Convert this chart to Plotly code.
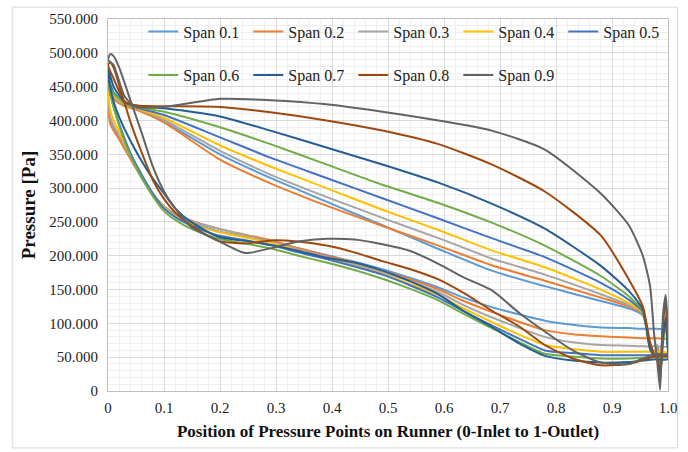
import plotly.graph_objects as go

SPANS = ["Span 0.1", "Span 0.2", "Span 0.3", "Span 0.4", "Span 0.5",
         "Span 0.6", "Span 0.7", "Span 0.8", "Span 0.9"]
COLORS = ["#5B9BD5", "#ED7D31", "#A5A5A5", "#FFC000", "#4472C4",
          "#70AD47", "#255E91", "#9E480E", "#636363"]

# x positions: pressure side (upper), trailing edge region, suction side (lower, back to inlet)
X_UPPER = [0, 0.01, 0.03, 0.05, 0.1, 0.2, 0.29, 0.39, 0.49, 0.59, 0.685, 0.78, 0.88, 0.93, 0.955]
X_TRAIL = [0.968, 0.975, 0.981, 0.986, 0.991, 0.996, 0.999]
X_LOWER = [1.0, 0.98, 0.955, 0.93, 0.88, 0.83, 0.78, 0.735, 0.685, 0.635, 0.59, 0.54, 0.49,
           0.44, 0.39, 0.34, 0.295, 0.245, 0.197, 0.148, 0.12, 0.1, 0.08, 0.06, 0.04, 0.02,
           0.01, 0.004, 0]

UPPER_01 = [442, 432, 422, 417, 398, 350, 315, 280, 245, 210, 178, 155, 133, 122, 112]
UPPER_02 = [440, 431, 421, 416, 397, 342, 307, 274, 244, 215, 186, 163, 138, 125, 114]
UPPER_03 = [445, 434, 423, 418, 401, 355, 320, 287, 256, 226, 196, 172, 143, 127, 115]
UPPER_04 = [450, 437, 424, 418, 404, 363, 332, 300, 268, 238, 208, 183, 150, 130, 116]
UPPER_05 = [462, 442, 425, 419, 408, 375, 345, 315, 285, 255, 226, 198, 160, 135, 117]
UPPER_06 = [455, 440, 425, 420, 413, 390, 365, 335, 305, 278, 249, 215, 170, 140, 118]
UPPER_07 = [478, 450, 427, 422, 418, 406, 385, 360, 335, 308, 277, 240, 185, 148, 120]
UPPER_08 = [482, 462, 428, 422, 421, 420, 412, 400, 385, 365, 335, 295, 230, 165, 125]
UPPER_09 = [490, 482, 435, 420, 420, 432, 430, 424, 413, 400, 385, 357, 292, 245, 200]

TRAIL_01 = [66, 56, 68, 45, 92, 118, 100]
TRAIL_02 = [64, 55, 64, 40, 88, 112, 95]
TRAIL_03 = [64, 55, 60, 35, 85, 122, 88]
TRAIL_04 = [63, 55, 56, 30, 80, 108, 80]
TRAIL_05 = [63, 54, 55, 25, 75, 104, 74]
TRAIL_06 = [62, 54, 52, 30, 70, 98, 70]
TRAIL_07 = [62, 53, 50, 22, 78, 108, 68]
TRAIL_08 = [72, 55, 46, 14, 100, 135, 88]
TRAIL_09 = [155, 86, 42, 2, 112, 142, 100]

LOWER_01 = [92, 92, 92, 93, 94, 98, 104, 113, 124, 138, 153, 167, 180, 191, 201, 211, 220, 228, 236, 249, 260, 272, 290, 315, 345, 375, 388, 400, 442]
LOWER_02 = [78, 78, 78, 79, 81, 84, 90, 102, 117, 133, 150, 165, 178, 190, 200, 211, 222, 231, 240, 252, 262, 273, 291, 316, 343, 372, 385, 395, 440]
LOWER_03 = [66, 66, 66, 67, 68, 72, 80, 93, 109, 127, 146, 162, 175, 187, 198, 209, 220, 230, 240, 251, 261, 273, 292, 317, 346, 378, 392, 405, 445]
LOWER_04 = [58, 58, 58, 58, 58, 62, 68, 83, 102, 122, 142, 158, 173, 185, 196, 207, 218, 227, 235, 247, 258, 271, 292, 318, 348, 383, 400, 415, 450]
LOWER_05 = [53, 53, 53, 53, 53, 56, 60, 77, 97, 118, 138, 156, 172, 184, 195, 205, 215, 223, 230, 245, 257, 270, 292, 320, 352, 395, 420, 440, 462]
LOWER_06 = [50, 50, 49, 48, 48, 51, 55, 72, 93, 114, 134, 151, 166, 179, 190, 200, 210, 218, 225, 240, 253, 266, 288, 316, 348, 392, 420, 440, 455]
LOWER_07 = [47, 47, 45, 43, 42, 45, 52, 70, 95, 118, 143, 162, 178, 190, 197, 207, 215, 222, 228, 250, 270, 292, 314, 340, 370, 405, 428, 450, 478]
LOWER_08 = [52, 52, 46, 40, 38, 48, 68, 95, 119, 145, 165, 180, 192, 205, 215, 221, 223, 218, 222, 245, 264, 284, 312, 353, 398, 452, 478, 486, 482]
LOWER_09 = [55, 55, 48, 40, 42, 60, 88, 115, 149, 168, 188, 207, 217, 224, 225, 221, 212, 204, 222, 243, 270, 295, 332, 382, 430, 478, 495, 498, 490]

UPPERS = [UPPER_01, UPPER_02, UPPER_03, UPPER_04, UPPER_05, UPPER_06, UPPER_07, UPPER_08, UPPER_09]
TRAILS = [TRAIL_01, TRAIL_02, TRAIL_03, TRAIL_04, TRAIL_05, TRAIL_06, TRAIL_07, TRAIL_08, TRAIL_09]
LOWERS = [LOWER_01, LOWER_02, LOWER_03, LOWER_04, LOWER_05, LOWER_06, LOWER_07, LOWER_08, LOWER_09]

X_TICKS = [0, 0.1, 0.2, 0.3, 0.4, 0.5, 0.6, 0.7, 0.8, 0.9, 1.0]
X_TICK_LABELS = ["0", "0.1", "0.2", "0.3", "0.4", "0.5", "0.6", "0.7", "0.8", "0.9", "1.0"]
Y_TICKS = [0, 50, 100, 150, 200, 250, 300, 350, 400, 450, 500, 550]
Y_TICK_LABELS = ["0", "50.000", "100.000", "150.000", "200.000", "250.000", "300.000",
                 "350.000", "400.000", "450.000", "500.000", "550.000"]

FONT = "Liberation Serif"

fig = go.Figure()
for i, name in enumerate(SPANS):
    fig.add_trace(go.Scatter(
        x=X_UPPER + X_TRAIL + X_LOWER,
        y=UPPERS[i] + TRAILS[i] + LOWERS[i],
        mode="lines",
        name=name,
        line=dict(color=COLORS[i], width=2, shape="spline", smoothing=0.6),
        legend="legend" if i < 5 else "legend2",
    ))

legend_common = dict(
    orientation="h", xanchor="left", yanchor="middle",
    bgcolor="rgba(0,0,0,0)", borderwidth=0,
    font=dict(family=FONT, size=16, color="#222222"),
    entrywidth=60, entrywidthmode="pixels", itemwidth=30,
)

fig.update_layout(
    width=688, height=452,
    margin=dict(l=108, r=11, t=18, b=61),
    paper_bgcolor="white", plot_bgcolor="white",
    font=dict(family=FONT, color="#222222"),
    showlegend=True,
    legend=dict(x=0.063, y=0.966, **legend_common),
    legend2=dict(x=0.063, y=0.849, **legend_common),
    xaxis=dict(
        range=[0, 1.0], tickmode="array", tickvals=X_TICKS, ticktext=X_TICK_LABELS,
        showgrid=True, gridcolor="#D9D9D9", gridwidth=1,
        minor=dict(tickmode="linear", tick0=0, dtick=0.02, showgrid=True,
                   gridcolor="#EFEFEF", gridwidth=1),
        zeroline=False, showline=True, linecolor="#BFBFBF", mirror=True,
        ticks="", ticklabelstandoff=3,
        tickfont=dict(family=FONT, size=15, color="#222222"),
        title=dict(text="<b>Position of Pressure Points on Runner (0-Inlet to 1-Outlet)</b>",
                   font=dict(family=FONT, size=17, color="#111111"), standoff=10),
    ),
    yaxis=dict(
        range=[0, 550], tickmode="array", tickvals=Y_TICKS, ticktext=Y_TICK_LABELS,
        showgrid=True, gridcolor="#D9D9D9", gridwidth=1,
        minor=dict(tickmode="linear", tick0=0, dtick=10, showgrid=True,
                   gridcolor="#EFEFEF", gridwidth=1),
        zeroline=False, showline=True, linecolor="#BFBFBF", mirror=True,
        ticks="", ticklabelstandoff=6,
        tickfont=dict(family=FONT, size=15, color="#222222"),
        title=dict(text="<b>Pressure [Pa]</b>",
                   font=dict(family=FONT, size=19, color="#111111"), standoff=8),
    ),
    shapes=[dict(type="rect", xref="paper", yref="paper",
                 x0=-0.171, x1=1.017, y0=-0.153, y1=1.032,
                 line=dict(color="#D9D9D9", width=1), fillcolor="rgba(0,0,0,0)",
                 layer="below")],
)

fig.write_html("out.html")
